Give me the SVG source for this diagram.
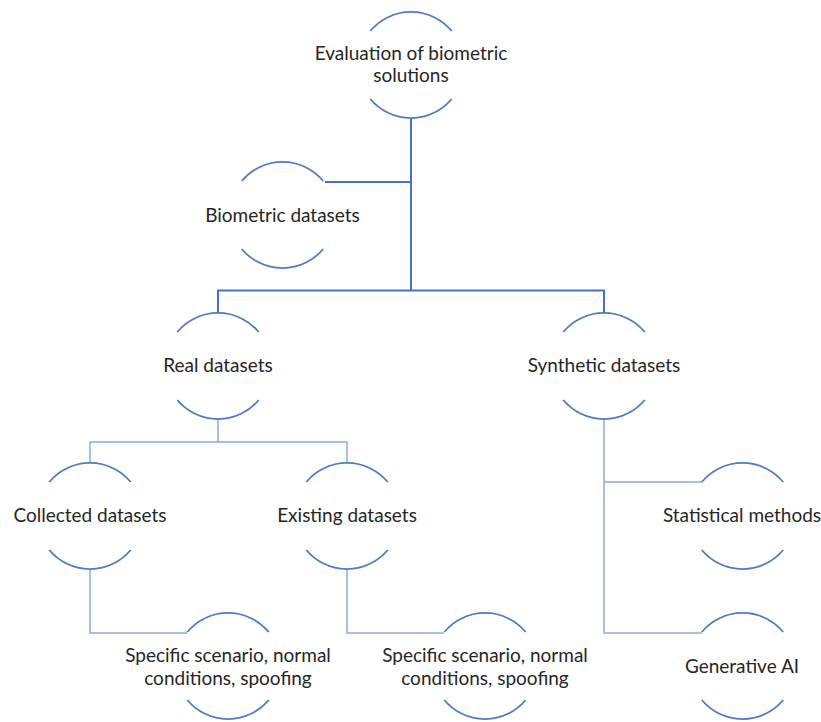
<svg xmlns="http://www.w3.org/2000/svg" xmlns:xlink="http://www.w3.org/1999/xlink" width="821" height="722" viewBox="0 0 821 722">
<style>
.arc{fill:none;stroke:#4F7BC6;stroke-width:1.8}
.main{fill:none;stroke:#4472C4;stroke-width:2}
.sub{fill:none;stroke:#8FAADC;stroke-width:1.5}
.t{font-family:Lato,"Open Sans",sans-serif;font-size:19px;fill:#262626;text-anchor:middle}
</style>
<defs>
<path id="node" d="M-40.7,-34 A53,53 0 0 1 40.7,-34 M-40.7,34 A53,53 0 0 0 40.7,34"/>
</defs>
<rect width="821" height="722" fill="#ffffff"/>
<g id="connectors">
<path class="main" d="M411,118 V290 M411,182 H325 M218,313 V290.5 H604 V313"/>
<path class="sub" d="M218,419 V442 M90,463 V442 H347 V463"/>
<path class="sub" d="M90,569 V633 H187 M347,569 V633 H444"/>
<path class="sub" d="M604,419 V633 H702 M604,482 H702"/>
</g>
<g id="n-eval"><use xlink:href="#node" class="arc" x="411" y="65"/><text class="t" x="411" y="60">Evaluation of biometric</text><text class="t" x="411" y="82">solutions</text></g>
<g id="n-bio"><use xlink:href="#node" class="arc" x="282.5" y="215"/><text class="t" x="282.5" y="222">Biometric datasets</text></g>
<g id="n-real"><use xlink:href="#node" class="arc" x="218" y="366"/><text class="t" x="218" y="372">Real datasets</text></g>
<g id="n-synth"><use xlink:href="#node" class="arc" x="604" y="366"/><text class="t" x="604" y="372">Synthetic datasets</text></g>
<g id="n-collected"><use xlink:href="#node" class="arc" x="90" y="516"/><text class="t" x="90" y="522">Collected datasets</text></g>
<g id="n-existing"><use xlink:href="#node" class="arc" x="347" y="516"/><text class="t" x="347" y="522">Existing datasets</text></g>
<g id="n-stat"><use xlink:href="#node" class="arc" x="742.5" y="516"/><text class="t" x="742" y="522">Statistical methods</text></g>
<g id="n-spec1"><use xlink:href="#node" class="arc" x="228" y="666"/><text class="t" x="228" y="662">Specific scenario, normal</text><text class="t" x="228" y="685">conditions, spoofing</text></g>
<g id="n-spec2"><use xlink:href="#node" class="arc" x="485" y="666"/><text class="t" x="485" y="662">Specific scenario, normal</text><text class="t" x="485" y="685">conditions, spoofing</text></g>
<g id="n-genai"><use xlink:href="#node" class="arc" x="742.5" y="666"/><text class="t" x="742" y="673">Generative AI</text></g>
</svg>
